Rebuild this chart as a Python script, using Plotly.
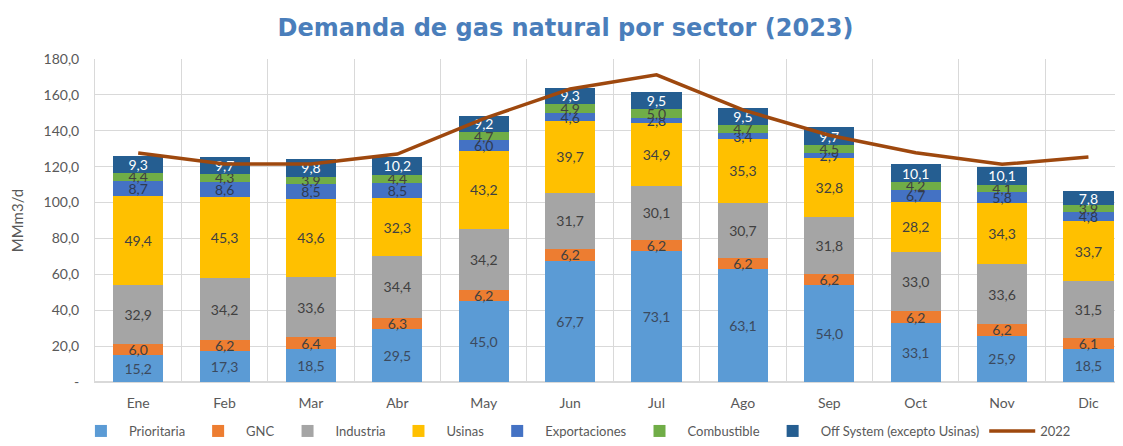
import plotly.graph_objects as go

months = ["Ene", "Feb", "Mar", "Abr", "May", "Jun", "Jul", "Ago", "Sep", "Oct", "Nov", "Dic"]
prioritaria = [15.2, 17.3, 18.5, 29.5, 45.0, 67.7, 73.1, 63.1, 54.0, 33.1, 25.9, 18.5]
gnc = [6.0, 6.2, 6.4, 6.3, 6.2, 6.2, 6.2, 6.2, 6.2, 6.2, 6.2, 6.1]
industria = [32.9, 34.2, 33.6, 34.4, 34.2, 31.7, 30.1, 30.7, 31.8, 33.0, 33.6, 31.5]
usinas = [49.4, 45.3, 43.6, 32.3, 43.2, 39.7, 34.9, 35.3, 32.8, 28.2, 34.3, 33.7]
exportaciones = [8.7, 8.6, 8.5, 8.5, 6.0, 4.6, 2.8, 3.4, 2.9, 6.7, 5.8, 4.8]
combustible = [4.4, 4.3, 3.9, 4.4, 4.7, 4.9, 5.0, 4.7, 4.5, 4.2, 4.1, 3.9]
off_system = [9.3, 9.7, 9.8, 10.2, 9.2, 9.3, 9.5, 9.5, 9.7, 10.1, 10.1, 7.8]
y2022 = [127.6, 121.5, 121.5, 127.0, 146.8, 163.3, 171.2, 151.6, 137.5, 127.8, 121.3, 125.4]

ytick_vals = [0, 20, 40, 60, 80, 100, 120, 140, 160, 180]
ytick_text = ["-", "20,0", "40,0", "60,0", "80,0", "100,0", "120,0", "140,0", "160,0", "180,0"]

series = [
    ("Prioritaria", prioritaria, "#5b9bd5", "#3b4a5e"),
    ("GNC", gnc, "#ed7d31", "#404040"),
    ("Industria", industria, "#a5a5a5", "#404040"),
    ("Usinas", usinas, "#ffc000", "#404040"),
    ("Exportaciones", exportaciones, "#4472c4", "#2f3b52"),
    ("Combustible", combustible, "#70ad47", "#404040"),
    ("Off System (excepto Usinas)", off_system, "#255e91", "#ffffff"),
]

fig = go.Figure()
for name, vals, color, tcolor in series:
    fig.add_trace(go.Bar(
        x=months, y=vals, name=name,
        marker=dict(color=color, line=dict(width=0)),
        texttemplate="%{y:.1f}", textposition="inside", insidetextanchor="middle",
        textangle=0, textfont=dict(color=tcolor, size=14, family="Lato"),
        hoverinfo="skip",
    ))

fig.add_trace(go.Scatter(
    x=months, y=y2022, name="2022", mode="lines",
    line=dict(color="#9e480e", width=3.5),
))

fig.update_layout(
    barmode="stack",
    bargap=0.42,
    separators=",.",
    width=1115, height=438,
    margin=dict(l=87, r=0, t=51, b=64, autoexpand=False),
    paper_bgcolor="white", plot_bgcolor="white",
    font=dict(family="Lato", color="#595959", size=13),
    title=dict(text="<b>Demanda de gas natural por sector (2023)</b>",
               x=0.5, xanchor="center", y=0.955, yanchor="middle",
               font=dict(size=24, color="#4a7ebb", family="DejaVu Sans")),
    uniformtext=dict(minsize=14, mode="show"),
    legend=dict(orientation="h", xref="container", x=0.508, xanchor="center",
                yref="container", y=-0.014, yanchor="bottom",
                font=dict(size=13, color="#595959"), itemwidth=46, traceorder="normal"),
    xaxis=dict(range=[-0.5, 11.4], tickson="boundaries", showgrid=True, automargin=False,
               gridcolor="#d9d9d9", gridwidth=1, ticks="", showline=True, ticklabelstandoff=8,
               linecolor="#d9d9d9", tickfont=dict(size=14, color="#595959")),
    yaxis=dict(range=[0, 180], tickvals=ytick_vals, ticktext=ytick_text, automargin=False,
               showgrid=True, gridcolor="#d9d9d9", zeroline=True, zerolinecolor="#d9d9d9",
               showline=True, linecolor="#d9d9d9", ticks="", ticklen=0, ticklabelstandoff=12,
               tickfont=dict(size=14, color="#595959"),
               title=dict(text="MMm3/d", font=dict(size=15, color="#595959"), standoff=16)),
)

fig.write_html("out.html")
